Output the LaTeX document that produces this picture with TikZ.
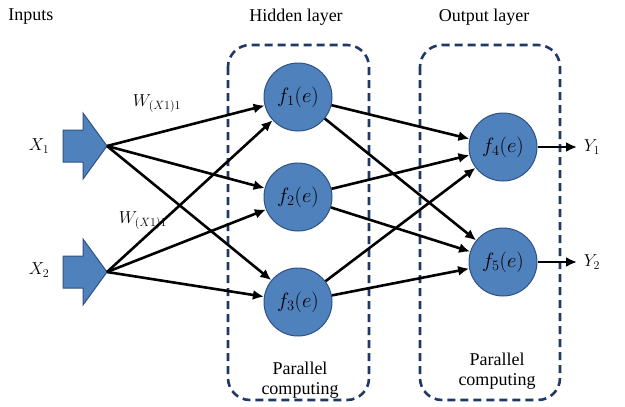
\documentclass[tikz,border=0pt]{standalone}
\usepackage{fontspec}
\setmainfont{Liberation Serif}
\usetikzlibrary{arrows.meta}
\definecolor{nodeblue}{HTML}{4F81BD}
\definecolor{nodeedge}{HTML}{2F5284}
\definecolor{boxnavy}{HTML}{1F3864}
\tikzset{
  neuron/.style={circle, minimum size=68pt, inner sep=0pt, fill=nodeblue, draw=nodeedge, line width=1pt,
                 font=\fontsize{20}{22}\selectfont},
  layerbox/.style={draw=boxnavy, line width=2.6pt, rounded corners=22pt, dash pattern=on 8pt off 5pt},
  inarrow/.style={fill=nodeblue, draw=nodeedge, line width=1pt, line join=miter},
  link/.style={line width=2.6pt, -{Latex[length=11pt,width=10pt]}},
  lbl/.style={font=\fontsize{18}{20}\selectfont, inner sep=0pt},
}
\begin{document}
\begin{tikzpicture}[x=1pt, y=-1pt]
\useasboundingbox (0,0) rectangle (625,407);

% layer frames
\draw[layerbox] (228,45) rectangle (369,400);
\draw[layerbox] (420,45) rectangle (560,400);

% headings
\node[lbl] (hin)  at (31,17)  {Inputs};
\node[lbl] (hhid) at (296,17) {Hidden layer};
\node[lbl] (hout) at (484,17) {Output layer};

% input block arrows
\draw[inarrow] (63,130) -- (83,130) -- (83,113) -- (107,146) -- (83,179) -- (83,162) -- (63,162) -- cycle;
\coordinate (x1) at (107,146);
\draw[inarrow] (63,256) -- (83,256) -- (83,239) -- (107,272) -- (83,305) -- (83,288) -- (63,288) -- cycle;
\coordinate (x2) at (107,272);
\node[lbl] (lx1) at (39,146) {$X_1$};
\node[lbl] (lx2) at (39,270) {$X_2$};

% weight labels
\node[lbl] (w1) at (157,104) {$W_{(X1)1}$};
\node[lbl] (w2) at (143,221) {$W_{(X1)1}$};

% neurons
\node[neuron] (f1) at (298,97)  {$f_1(e)$};
\node[neuron] (f2) at (298,197) {$f_2(e)$};
\node[neuron] (f3) at (298,302) {$f_3(e)$};
\node[neuron] (f4) at (503,147) {$f_4(e)$};
\node[neuron] (f5) at (503,262) {$f_5(e)$};

% outputs
\coordinate (y1end) at (577,147);
\coordinate (y2end) at (577,262);
\node[lbl] (ly1) at (592,147) {$Y_1$};
\node[lbl] (ly2) at (592,262) {$Y_2$};

% connections
\foreach \s in {x1,x2}
  \foreach \t in {f1,f2,f3}
    \draw[link] (\s) -- (\t);
\foreach \s in {f1,f2,f3}
  \foreach \t in {f4,f5}
    \draw[link] (\s) -- (\t);
\draw[link] (f4) -- (y1end);
\draw[link] (f5) -- (y2end);

% frame captions
\node[lbl, align=center] (pc1) at (300,380) {Parallel\\computing};
\node[lbl, align=center] (pc2) at (497,371) {Parallel\\computing};
\end{tikzpicture}
\end{document}
